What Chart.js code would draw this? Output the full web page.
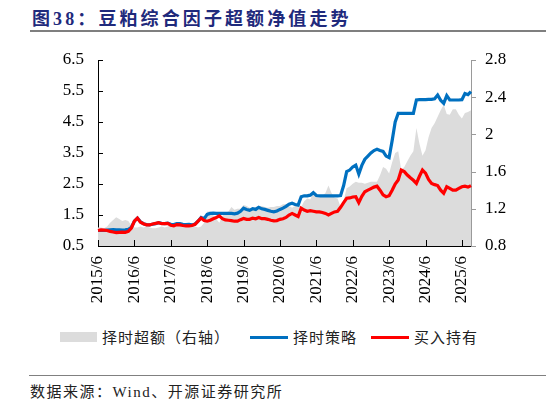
<!DOCTYPE html>
<html>
<head>
<meta charset="utf-8">
<script src="https://cdn.jsdelivr.net/npm/chart.js@4.4.1/dist/chart.umd.min.js"></script>
<style>
  html, body { margin: 0; padding: 0; background: #fff; }
  #page { position: relative; width: 546px; height: 405px; overflow: hidden; }
  #title {
    position: absolute; left: 32px; top: 4px;
    font: bold 18px "Liberation Serif", "Noto Sans CJK SC", serif;
    letter-spacing: 3.1px; color: #1f2a7c; white-space: nowrap;
  }
  #title-rule { position: absolute; left: 30px; right: 0; top: 30px; height: 2px; background: #7f7f7f; }
  #chart-box { position: absolute; left: 0; top: 0; width: 546px; height: 320px; }
  .legend { position: absolute; top: 327px; font: 15px "Noto Sans CJK SC", sans-serif; letter-spacing: 1px; color: #222; white-space: nowrap; line-height: 20px; }
  .swatch { position: absolute; }
  #source-rule { position: absolute; left: 29px; right: 0; top: 375px; height: 1px; background: #808080; }
  #source {
    position: absolute; left: 30px; top: 380px;
    font: 15px "Liberation Serif", "Noto Sans CJK SC", serif;
    letter-spacing: 1.5px; color: #222; white-space: nowrap;
  }
</style>
</head>
<body>
<div id="page">
  <div id="title">图38：豆粕综合因子超额净值走势</div>
  <div id="title-rule"></div>
  <div id="chart-box"><canvas id="chart" width="546" height="320"></canvas></div>

  <div class="swatch" style="left:60px;top:332px;width:37px;height:10px;background:#dcdcdc"></div>
  <div class="legend" style="left:102px">择时超额（右轴）</div>
  <div class="swatch" style="left:250px;top:336px;width:38px;height:3px;background:#0070c0"></div>
  <div class="legend" style="left:293px">择时策略</div>
  <div class="swatch" style="left:371px;top:336px;width:38px;height:3px;background:#ff0000"></div>
  <div class="legend" style="left:414px">买入持有</div>

  <div id="source-rule"></div>
  <div id="source">数据来源：Wind、开源证券研究所</div>
</div>

<script>
// monthly points, 2015/6 .. 2025/9
const startYear = 2015;
const startMonth = 6;
const monthCount = 124;
const months = [];
for (let i = 0; i < monthCount; i++) {
  const t = startMonth - 1 + i;
  months.push(`${startYear + Math.floor(t / 12)}/${(t % 12) + 1}`);
}

const tickLabels = ["2015/6", "2016/6", "2017/6", "2018/6", "2019/6", "2020/6",
  "2021/6", "2022/6", "2023/6", "2024/6", "2025/6"];

// 择时策略 (left axis)
const timingNav = [
  1.00, 1.00, 1.00, 1.01, 1.02, 1.03, 1.02, 1.02, 1.01, 1.02,
  1.04, 1.10, 1.30, 1.40, 1.28, 1.22, 1.19, 1.18, 1.20, 1.22,
  1.25, 1.23, 1.22, 1.24, 1.20, 1.19, 1.22, 1.22, 1.20, 1.19,
  1.20, 1.18, 1.21, 1.30, 1.42, 1.38, 1.52, 1.55, 1.56, 1.55,
  1.55, 1.55, 1.55, 1.55, 1.55, 1.54, 1.56, 1.62, 1.72, 1.68,
  1.65, 1.70, 1.68, 1.75, 1.70, 1.68, 1.65, 1.62, 1.60, 1.63,
  1.68, 1.72, 1.78, 1.85, 1.88, 1.84, 1.82, 2.09, 2.12, 2.12,
  2.14, 2.22, 2.13, 2.12, 2.12, 2.12, 2.12, 2.12, 2.12, 2.12,
  2.13, 2.45, 2.90, 2.95, 3.05, 3.11, 2.82, 3.10, 3.30, 3.40,
  3.50, 3.58, 3.62, 3.58, 3.55, 3.40, 3.35, 3.90, 4.50, 4.78,
  4.78, 4.78, 4.78, 4.78, 4.78, 5.21, 5.22, 5.22, 5.22, 5.23,
  5.23, 5.25, 5.37, 5.20, 5.10, 5.35, 5.21, 5.21, 5.21, 5.21,
  5.22, 5.42, 5.38, 5.48
];

// 买入持有 (left axis)
const holdNav = [
  1.00, 1.02, 1.01, 1.00, 0.97, 0.95, 0.93, 0.94, 0.95, 0.94,
  0.97, 1.08, 1.30, 1.40, 1.27, 1.22, 1.18, 1.18, 1.21, 1.23,
  1.25, 1.22, 1.22, 1.23, 1.17, 1.15, 1.19, 1.18, 1.16, 1.15,
  1.15, 1.16, 1.20, 1.30, 1.40, 1.32, 1.30, 1.33, 1.38, 1.42,
  1.47, 1.38, 1.34, 1.33, 1.32, 1.30, 1.30, 1.35, 1.39, 1.36,
  1.36, 1.40, 1.38, 1.42, 1.38, 1.38, 1.36, 1.33, 1.31, 1.32,
  1.36, 1.38, 1.42, 1.50, 1.55, 1.50, 1.45, 1.72, 1.66, 1.62,
  1.64, 1.62, 1.60, 1.60, 1.58, 1.55, 1.50, 1.55, 1.60, 1.62,
  1.75, 1.90, 2.04, 2.05, 2.08, 2.09, 1.90, 2.10, 2.25, 2.30,
  2.35, 2.40, 2.43, 2.30, 2.15, 2.09, 2.12, 2.30, 2.50, 2.63,
  2.95, 2.90, 2.79, 2.70, 2.62, 2.52, 2.75, 2.95, 2.85, 2.65,
  2.52, 2.48, 2.45, 2.30, 2.20, 2.41, 2.36, 2.30, 2.30, 2.36,
  2.41, 2.43, 2.40, 2.45
];

// 择时超额 (right axis)
const excessNav = [
  1.00, 1.00, 0.99, 1.01, 1.05, 1.08, 1.11, 1.09, 1.07, 1.08,
  1.07, 1.02, 1.00, 1.00, 1.01, 1.00, 1.01, 1.00, 0.99, 0.99,
  1.00, 1.01, 1.00, 1.01, 1.03, 1.04, 1.03, 1.03, 1.03, 1.04,
  1.04, 1.02, 1.01, 1.00, 1.01, 1.05, 1.17, 1.17, 1.13, 1.09,
  1.05, 1.12, 1.16, 1.17, 1.22, 1.19, 1.20, 1.20, 1.24, 1.23,
  1.21, 1.21, 1.22, 1.23, 1.23, 1.22, 1.21, 1.22, 1.22, 1.23,
  1.23, 1.25, 1.25, 1.23, 1.21, 1.23, 1.26, 1.22, 1.28, 1.31,
  1.30, 1.37, 1.33, 1.32, 1.34, 1.37, 1.45, 1.37, 1.32, 1.31,
  1.22, 1.29, 1.42, 1.44, 1.47, 1.49, 1.48, 1.48, 1.47, 1.48,
  1.49, 1.49, 1.49, 1.56, 1.65, 1.63, 1.58, 1.70, 1.80, 1.82,
  1.62, 1.65, 1.71, 1.77, 1.82, 2.07, 1.90, 1.77, 1.83, 1.97,
  2.07, 2.12, 2.19, 2.26, 2.32, 2.22, 2.21, 2.27, 2.27, 2.21,
  2.17, 2.23, 2.24, 2.26
];

const tickFont = { family: "'Liberation Serif', 'Times New Roman', serif", size: 17 };

/** ────── small tick marks: inward on left/bottom, outward on right ────── */
const axisTicks = {
  id: "axisTicks",
  afterDraw(chart) {
    const { ctx, chartArea: a, scales } = chart;
    ctx.save();
    ctx.lineWidth = 1;
    ctx.strokeStyle = "#000";
    ctx.beginPath();
    scales.y.ticks.forEach((t, i) => {
      const y = Math.round(scales.y.getPixelForTick(i)) + 0.5;
      ctx.moveTo(a.left, y);
      ctx.lineTo(a.left + 5, y);
    });
    scales.x.ticks.forEach((t, i) => {
      if (!tickLabels.includes(months[t.value])) return;
      const x = Math.round(scales.x.getPixelForTick(i)) + 0.5;
      ctx.moveTo(x, a.bottom);
      ctx.lineTo(x, a.bottom - 6);
    });
    ctx.stroke();
    ctx.strokeStyle = "#9a9a9a";
    ctx.beginPath();
    scales.y1.ticks.forEach((t, i) => {
      const y = Math.round(scales.y1.getPixelForTick(i)) + 0.5;
      ctx.moveTo(a.right, y);
      ctx.lineTo(a.right + 5, y);
    });
    ctx.stroke();
    ctx.restore();
  },
};

new Chart(document.getElementById("chart"), {
  type: "line",
  data: {
    labels: months,
    datasets: [
      {
        label: "买入持有",
        data: holdNav,
        yAxisID: "y",
        borderColor: "#ff0000",
        borderWidth: 3.2,
        pointRadius: 0,
        tension: 0,
        order: 0,
      },
      {
        label: "择时策略",
        data: timingNav,
        yAxisID: "y",
        borderColor: "#0070c0",
        borderWidth: 3.2,
        pointRadius: 0,
        tension: 0,
        order: 1,
      },
      {
        label: "择时超额（右轴）",
        data: excessNav,
        yAxisID: "y1",
        borderWidth: 0,
        borderColor: "rgba(0,0,0,0)",
        backgroundColor: "#dcdcdc",
        fill: "start",
        pointRadius: 0,
        tension: 0,
        order: 2,
      },
    ],
  },
  options: {
    responsive: false,
    animation: false,
    events: [],
    layout: { padding: { top: 60, left: 0, right: 0, bottom: 0 } },
    plugins: { legend: { display: false }, tooltip: { enabled: false } },
    scales: {
      x: {
        type: "category",
        offset: false,
        grid: { display: false, drawTicks: false },
        border: { display: true, color: "#000", width: 1 },
        ticks: {
          autoSkip: false,
          maxRotation: 90,
          minRotation: 90,
          padding: 10,
          color: "#000",
          font: tickFont,
          callback: (v, i) => (tickLabels.includes(months[i]) ? months[i] : null),
        },
        afterFit: (s) => { s.height = 74; },
      },
      y: {
        position: "left",
        min: 0.5,
        max: 6.5,
        grid: { display: false, drawTicks: false },
        border: { display: true, color: "#000", width: 1 },
        ticks: { stepSize: 1, padding: 14, color: "#000", font: tickFont, callback: (v) => v.toFixed(1) },
        afterFit: (s) => { s.width = 98; },
      },
      y1: {
        position: "right",
        min: 0.8,
        max: 2.8,
        grid: { display: false, drawTicks: false },
        border: { display: true, color: "#9a9a9a", width: 1 },
        ticks: {
          stepSize: 0.4,
          padding: 14,
          color: "#000",
          font: tickFont,
          callback: (v) => (Math.abs(v - 2) < 1e-6 ? "2" : v.toFixed(1)),
        },
        afterFit: (s) => { s.width = 75; },
      },
    },
  },
  plugins: [axisTicks],
});
</script>
</body>
</html>
